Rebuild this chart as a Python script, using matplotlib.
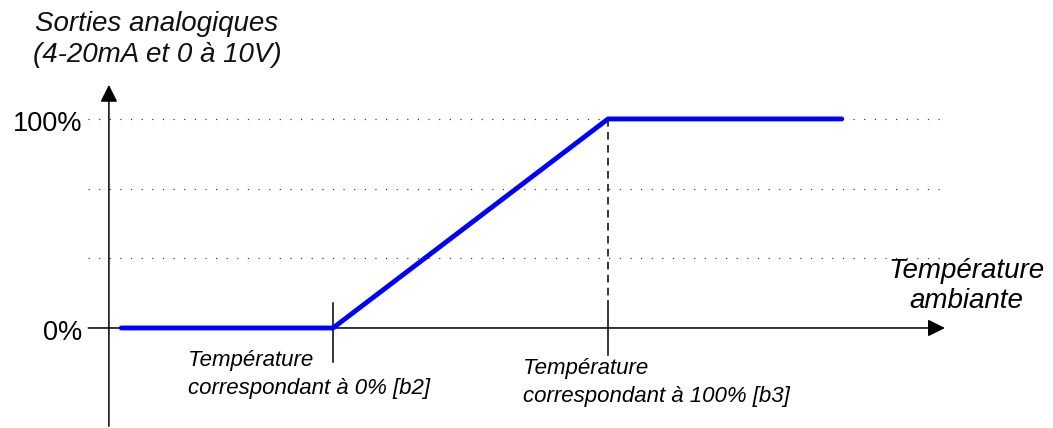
import matplotlib.pyplot as plt

plt.rcParams['font.family'] = ['Liberation Sans', 'DejaVu Sans']

# courbe de sortie : température (b2 = 0, b3 = 1) -> sortie en %
temp = [-0.77, 0.0, 1.0, 1.85]
sortie = [0, 0, 100, 100]

grille_y = [100 / 3, 200 / 3, 100]   # lignes pointillées
b2, b3 = 0.0, 1.0

fig = plt.figure(figsize=(10.53, 4.28), dpi=100)
ax = fig.add_axes([0, 0, 1, 1])
ax.set_xlim(-1.211, 2.618)
ax.set_ylim(-47.85, 156.9)
ax.axis('off')

# lignes pointillées horizontales
for g in grille_y:
    ax.plot([-0.892, 2.207], [g, g], color='#333333', lw=0.85,
            linestyle=(0, (1, 8)), zorder=1)

# axes avec flèches
fleche = dict(arrowstyle='-|>,head_length=0.4,head_width=0.2', color='black',
              lw=1.1, shrinkA=0, shrinkB=0, mutation_scale=26)
ax.annotate('', xy=(2.225, 0), xytext=(-0.89, 0), arrowprops=fleche, zorder=2)
ax.annotate('', xy=(-0.815, 116.3), xytext=(-0.815, -47), arrowprops=fleche, zorder=2)

# repères b2 et b3
ax.plot([b2, b2], [12, -16.5], color='black', lw=1.1, zorder=3)
ax.plot([b3, b3], [13, -13], color='black', lw=1.1, zorder=3)
ax.plot([b3, b3], [100, 13], color='black', lw=1.1, linestyle=(0, (5, 3.5)), zorder=3)

# courbe
ax.plot(temp, sortie, color='#0000ff', lw=3.5, solid_capstyle='round',
        solid_joinstyle='round', zorder=4)

# textes
ax.text(-0.64, 137.8, 'Sorties analogiques\n(4-20mA et 0 à 10V)', ha='center', va='center',
        fontsize=20, style='italic', color='#111111', linespacing=1.25)
ax.text(-0.913, 97.6, '100%', ha='right', va='center', fontsize=19.5)
ax.text(-0.913, -2.4, '0%', ha='right', va='center', fontsize=19.5)
ax.text(2.302, 20.0, 'Température\nambiante', ha='center', va='center',
        fontsize=20, style='italic', linespacing=1.2)
ax.text(-0.527, -22.2, 'Température\ncorrespondant à 0% [b2]', ha='left', va='center',
        fontsize=16, style='italic', linespacing=1.45)
ax.text(0.691, -26.1, 'Température\ncorrespondant à 100% [b3]', ha='left', va='center',
        fontsize=16, style='italic', linespacing=1.45)

fig.savefig('out.png', dpi=100)
